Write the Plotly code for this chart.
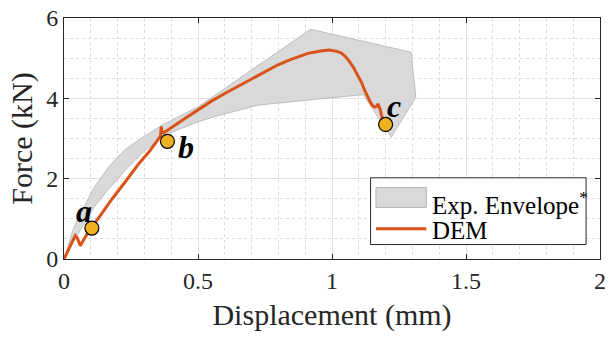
import plotly.graph_objects as go

# Experimental envelope polygon (displacement mm, force kN)
env_x = [0.0, 0.036, 0.073, 0.110, 0.171, 0.227, 0.282, 0.368, 0.503, 0.687, 0.920,
         1.295, 1.313, 1.221, 1.117, 0.945, 0.797, 0.724, 0.564, 0.503, 0.380,
         0.294, 0.233, 0.159, 0.110, 0.067, 0.036, 0.012, 0.0]
env_y = [0.0, 0.78, 1.27, 1.76, 2.33, 2.72, 2.98, 3.34, 3.80, 4.64, 5.72,
         5.15, 4.03, 3.03, 4.09, 3.98, 3.87, 3.83, 3.55, 3.42, 3.10,
         2.65, 2.24, 1.68, 1.27, 0.78, 0.46, 0.17, 0.0]

# DEM curve
dem_x = [0.0, 0.020, 0.042, 0.050, 0.061, 0.079, 0.104, 0.134, 0.180, 0.233, 0.280,
         0.319, 0.350, 0.360, 0.363, 0.366, 0.372, 0.392, 0.440, 0.503, 0.550,
         0.600, 0.650, 0.687, 0.740, 0.797, 0.840, 0.871, 0.910, 0.957, 0.990,
         1.018, 1.035, 1.050, 1.065, 1.080, 1.095, 1.110, 1.122, 1.135, 1.145,
         1.154, 1.160, 1.166, 1.171, 1.175, 1.180, 1.184, 1.188, 1.192]
dem_y = [0.0, 0.28, 0.58, 0.52, 0.33, 0.54, 0.80, 1.07, 1.50, 1.96, 2.38,
         2.68, 2.96, 3.06, 3.30, 3.14, 3.15, 3.23, 3.45, 3.72, 3.93,
         4.12, 4.30, 4.44, 4.63, 4.83, 4.95, 5.03, 5.12, 5.18, 5.20,
         5.17, 5.13, 5.04, 4.92, 4.77, 4.60, 4.40, 4.20, 4.02, 3.88,
         3.80, 3.78, 3.80, 3.86, 3.80, 3.72, 3.60, 3.48, 3.40]

# Marked points
pt_x = [0.104, 0.386, 1.200]
pt_y = [0.77, 2.93, 3.35]
pt_labels = ["a", "b", "c"]
lbl_x = [0.073, 0.455, 1.230]
lbl_y = [1.20, 2.78, 3.80]

x_ticks = [0, 0.5, 1, 1.5, 2]
x_ticklabels = ["0", "0.5", "1", "1.5", "2"]
y_ticks = [0, 2, 4, 6]

legend_labels = ["Exp. Envelope<sup>*</sup>", "DEM"]

FILL = "#d9d9d9"
EDGE = "#b4b4b4"
RED = "#D95319"
SERIF = "Liberation Serif"

fig = go.Figure()
fig.add_trace(go.Scatter(x=env_x, y=env_y, fill="toself", mode="lines",
                         fillcolor=FILL, line=dict(color=EDGE, width=0.8),
                         name=legend_labels[0], showlegend=False))
fig.add_trace(go.Scatter(x=dem_x, y=dem_y, mode="lines",
                         line=dict(color=RED, width=3), name=legend_labels[1],
                         showlegend=False))
fig.add_trace(go.Scatter(x=pt_x, y=pt_y, mode="markers", showlegend=False,
                         marker=dict(size=14, color="#EDB120",
                                     line=dict(color="black", width=1.2))))
for lx, ly, t in zip(lbl_x, lbl_y, pt_labels):
    fig.add_annotation(x=lx, y=ly, text="<b><i>%s</i></b>" % t, showarrow=False,
                       font=dict(family=SERIF, size=32, color="black"))

# Legend box drawn in paper coordinates (plot-area fractions)
fig.add_shape(type="rect", xref="paper", yref="paper", x0=0.572, x1=0.974, y0=0.060, y1=0.337,
              fillcolor="white", line=dict(color="#262626", width=1), layer="above")
fig.add_shape(type="rect", xref="paper", yref="paper", x0=0.582, x1=0.676, y0=0.214, y1=0.297,
              fillcolor=FILL, line=dict(color=EDGE, width=1), layer="above")
fig.add_shape(type="line", xref="paper", yref="paper", x0=0.582, x1=0.676, y0=0.126, y1=0.126,
              line=dict(color=RED, width=3), layer="above")
for yy, txt in zip([0.232, 0.120], legend_labels):
    fig.add_annotation(xref="paper", yref="paper", x=0.683, y=yy, text=txt,
                       xanchor="left", yanchor="middle", showarrow=False,
                       font=dict(family=SERIF, size=25, color="black"))

axis_common = dict(showline=True, linecolor="#262626", linewidth=1, mirror="ticks",
                   ticks="inside", ticklen=5, tickcolor="#262626",
                   showgrid=True, gridcolor="#e3e3e3", gridwidth=1, zeroline=False,
                   tickfont=dict(family=SERIF, size=24, color="#262626"))

fig.update_xaxes(range=[0, 2], tickvals=x_ticks, ticktext=x_ticklabels,
                 minor=dict(dtick=0.1, showgrid=True, gridcolor="#dcdcdc", griddash="dot", ticks=""),
                 title=dict(text="Displacement (mm)", standoff=11,
                            font=dict(family=SERIF, size=30, color="#262626")),
                 **axis_common)
fig.update_yaxes(range=[0, 6], tickvals=y_ticks,
                 minor=dict(dtick=0.5, showgrid=True, gridcolor="#dcdcdc", griddash="dot", ticks=""),
                 title=dict(text="Force (kN)", standoff=4,
                            font=dict(family=SERIF, size=30, color="#262626")),
                 **axis_common)

fig.update_layout(width=612, height=338, margin=dict(l=63.5, r=5.6, t=12.7, b=79.3),
                  plot_bgcolor="white", paper_bgcolor="white", showlegend=False)

fig.write_html("out.html")
